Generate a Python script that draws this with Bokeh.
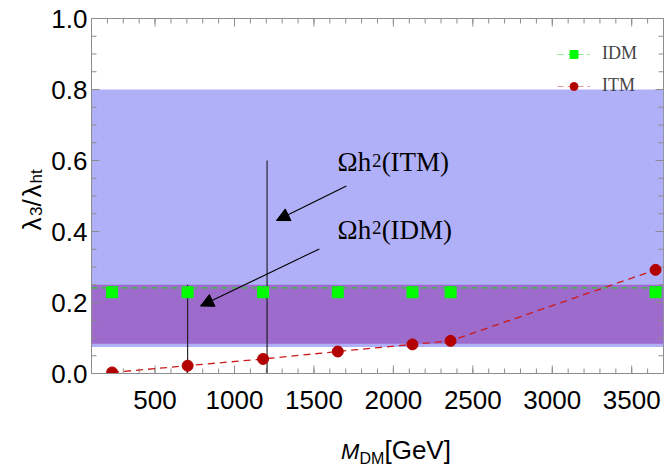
import math
from bokeh.plotting import figure
from bokeh.layouts import row, column
from bokeh.models import (Range1d, LinearAxis, Label, Arrow, NormalHead, Legend, LegendItem,
                          FixedTicker, BoxAnnotation, Span, PrintfTickFormatter)
from bokeh.core.properties import value
from bokeh.embed import file_html
from bokeh.resources import INLINE

# ---- data ----
m_dm = [230, 705, 1180, 1650, 2120, 2360, 3650]          # M_DM [GeV]
itm = [0.003, 0.022, 0.041, 0.062, 0.082, 0.092, 0.292]  # ITM lambda3/lambda_ht
idm = [0.229, 0.229, 0.229, 0.229, 0.229, 0.229, 0.229]  # IDM lambda3/lambda_ht
idm_fit = 0.241                                          # IDM dashed level
band_blue = [0.075, 0.80]                                # Omega h^2 (ITM) band
band_purple = [0.084, 0.25]                              # Omega h^2 (IDM) band
vline_x = [705, 1205]
vline_top = [0.25, 0.60]
x_ticks = [500, 1000, 1500, 2000, 2500, 3000, 3500]
x_minor = list(range(100, 3701, 100))
y_ticks = [0.0, 0.2, 0.4, 0.6, 0.8, 1.0]
y_minor = [round(i * 0.05, 2) for i in range(21)]
X0, X1 = 100, 3700
Y0, Y1 = 0.0, 1.0

GRAY = "#8c8c8c"
SANS = "Liberation Sans"
SERIF = "Liberation Serif"
NAN = float("nan")

YLAB_W = 48   # width of the strip holding the y title

p = figure(width=665 - YLAB_W, height=430, output_backend="svg", toolbar_location=None,
           x_range=Range1d(X0, X1), y_range=Range1d(Y0, Y1),
           min_border_left=91 - YLAB_W, min_border_right=2, min_border_top=18, min_border_bottom=57)
p.grid.visible = False
p.outline_line_color = GRAY
p.background_fill_color = "white"
p.border_fill_color = "white"

# bands
p.add_layout(BoxAnnotation(bottom=band_blue[0], top=band_blue[1], fill_color="#b0b0f9",
                           fill_alpha=1.0, line_alpha=0, level="underlay"))
p.add_layout(BoxAnnotation(bottom=band_purple[0], top=band_purple[1], fill_color="#9c6bcb",
                           fill_alpha=1.0, line_alpha=0, level="underlay"))

# inner tick marks on all four sides (half of each dash is clipped by the frame)
def ticks(xs, ys, angle, size):
    p.scatter(x=xs, y=ys, marker="dash", angle=angle, size=size, line_color=GRAY, line_width=1)

ticks(x_minor, [Y0] * len(x_minor), math.pi / 2, 10)
ticks(x_minor, [Y1] * len(x_minor), math.pi / 2, 10)
ticks(x_ticks, [Y0] * len(x_ticks), math.pi / 2, 16)
ticks(x_ticks, [Y1] * len(x_ticks), math.pi / 2, 16)
ticks([X0] * len(y_minor), y_minor, 0, 10)
ticks([X1] * len(y_minor), y_minor, 0, 10)
ticks([X0] * len(y_ticks), y_ticks, 0, 16)
ticks([X1] * len(y_ticks), y_ticks, 0, 16)

# vertical lines
p.segment(x0=vline_x, y0=[Y0, Y0], x1=vline_x, y1=vline_top, line_color="#1a1a1a", line_width=1.1)

# IDM level and points
p.add_layout(Span(location=idm_fit, dimension="width", line_color="#33cc33", line_width=1.3,
                  line_dash="6 4"))
idm_leg_line = p.line(x=[NAN], y=[NAN], line_color="#8fe88f", line_width=1, line_dash="6 4")
idm_pts = p.scatter(m_dm, idm, marker="square", size=11, fill_color="#00ff00", line_color="#00ff00")

# ITM line and points
p.line(m_dm, itm, line_color="#cc1a1a", line_width=1.3, line_dash="7 5")
itm_leg_line = p.line(x=[NAN], y=[NAN], line_color="#e09a9a", line_width=1, line_dash="6 4")
itm_pts = p.scatter(m_dm, itm, marker="circle", size=11, fill_color="#b30000", line_color="#b30000")

# arrows
p.add_layout(Arrow(end=NormalHead(size=13, fill_color="black", line_color="black"),
                   x_start=1704, y_start=0.528, x_end=1264, y_end=0.431,
                   line_color="black", line_width=1.1))
p.add_layout(Arrow(end=NormalHead(size=13, fill_color="black", line_color="black"),
                   x_start=1534, y_start=0.351, x_end=786, y_end=0.19,
                   line_color="black", line_width=1.1))

# Omega h^2 labels (Omega h, superscript 2, bracket)
for base_y, tag in [(0.553, "(ITM)"), (0.363, "(IDM)")]:
    p.add_layout(Label(x=1649, y=base_y, text="Ωh", text_font=SERIF,
                       text_font_size="27px", text_color="black"))
    p.add_layout(Label(x=1866, y=base_y + 0.03, text="2", text_font=SERIF,
                       text_font_size="19px", text_color="black"))
    p.add_layout(Label(x=1926, y=base_y, text=tag, text_font=SERIF,
                       text_font_size="27px", text_color="black"))

# legend
legend = Legend(items=[LegendItem(label="IDM", renderers=[idm_leg_line, idm_pts]),
                       LegendItem(label="ITM", renderers=[itm_leg_line, itm_pts])],
                location=(466, 277), background_fill_alpha=0, border_line_alpha=0,
                label_text_font=SERIF, label_text_font_size="18px", glyph_width=33,
                glyph_height=20, spacing=11, padding=0, margin=0, label_standoff=12)
p.add_layout(legend)

# axes: labels only (tick marks are drawn above)
for ax in (p.xaxis[0], p.yaxis[0]):
    ax.axis_line_color = GRAY
    ax.major_tick_in = 0
    ax.major_tick_out = 0
    ax.major_tick_line_color = None
    ax.minor_tick_line_color = None
    ax.major_label_text_font = SANS
    ax.major_label_text_font_size = "26px"
    ax.major_label_text_color = "black"
p.xaxis.ticker = FixedTicker(ticks=x_ticks)
p.xaxis.major_label_standoff = 17
p.yaxis.ticker = FixedTicker(ticks=y_ticks)
p.yaxis.formatter = PrintfTickFormatter(format="%.1f")
p.yaxis.major_label_standoff = 4

# ---- y title: lambda_3 / lambda_ht (rotated, read upward), drawn in a narrow strip ----
# each piece is anchored at its upper end (text_align="right" after rotation)
ylab = figure(width=YLAB_W, height=465, output_backend="svg", toolbar_location=None,
              x_range=Range1d(0, YLAB_W), y_range=Range1d(465, 0),
              x_axis_location=None, y_axis_location=None, min_border=0)
ylab.grid.visible = False
ylab.outline_line_color = None
ylab_txt = ["λ", "3", "/", "λ", "ht"]
ylab_x = [31.5, 35.5, 31.5, 31.5, 35.5]
ylab_y = [217, 206, 198.8, 184, 168.8]
ylab_size = ["26px", "17px", "26px", "26px", "17px"]
for t, xx, yy, fs in zip(ylab_txt, ylab_x, ylab_y, ylab_size):
    ylab.text(x=[xx], y=[yy], text=[t], angle=math.pi / 2, text_font=value(SANS),
              text_font_size=value(fs), text_color="black", text_align="right",
              text_baseline="alphabetic")

# ---- x title: M_DM[GeV], drawn in a strip under the plot ----
xlab = figure(width=665 - YLAB_W, height=35, output_backend="svg", toolbar_location=None,
              x_range=Range1d(YLAB_W, 665), y_range=Range1d(465, 430),
              x_axis_location=None, y_axis_location=None, min_border=0)
xlab.grid.visible = False
xlab.outline_line_color = None
xlab.text(x=[317], y=[450.5], text=["M"], text_font=value(SANS), text_font_style="italic",
          text_font_size=value("22px"), text_color="black", text_baseline="alphabetic")
xlab.text(x=[337], y=[457.5], text=["DM"], text_font=value(SANS),
          text_font_size=value("16px"), text_color="black", text_baseline="alphabetic")
xlab.text(x=[364], y=[449.5], text=["[GeV]"], text_font=value(SANS),
          text_font_size=value("26px"), text_color="black", text_baseline="alphabetic")

layout = row(ylab, column(p, xlab))
open("out.html", "w").write(file_html(layout, INLINE))
